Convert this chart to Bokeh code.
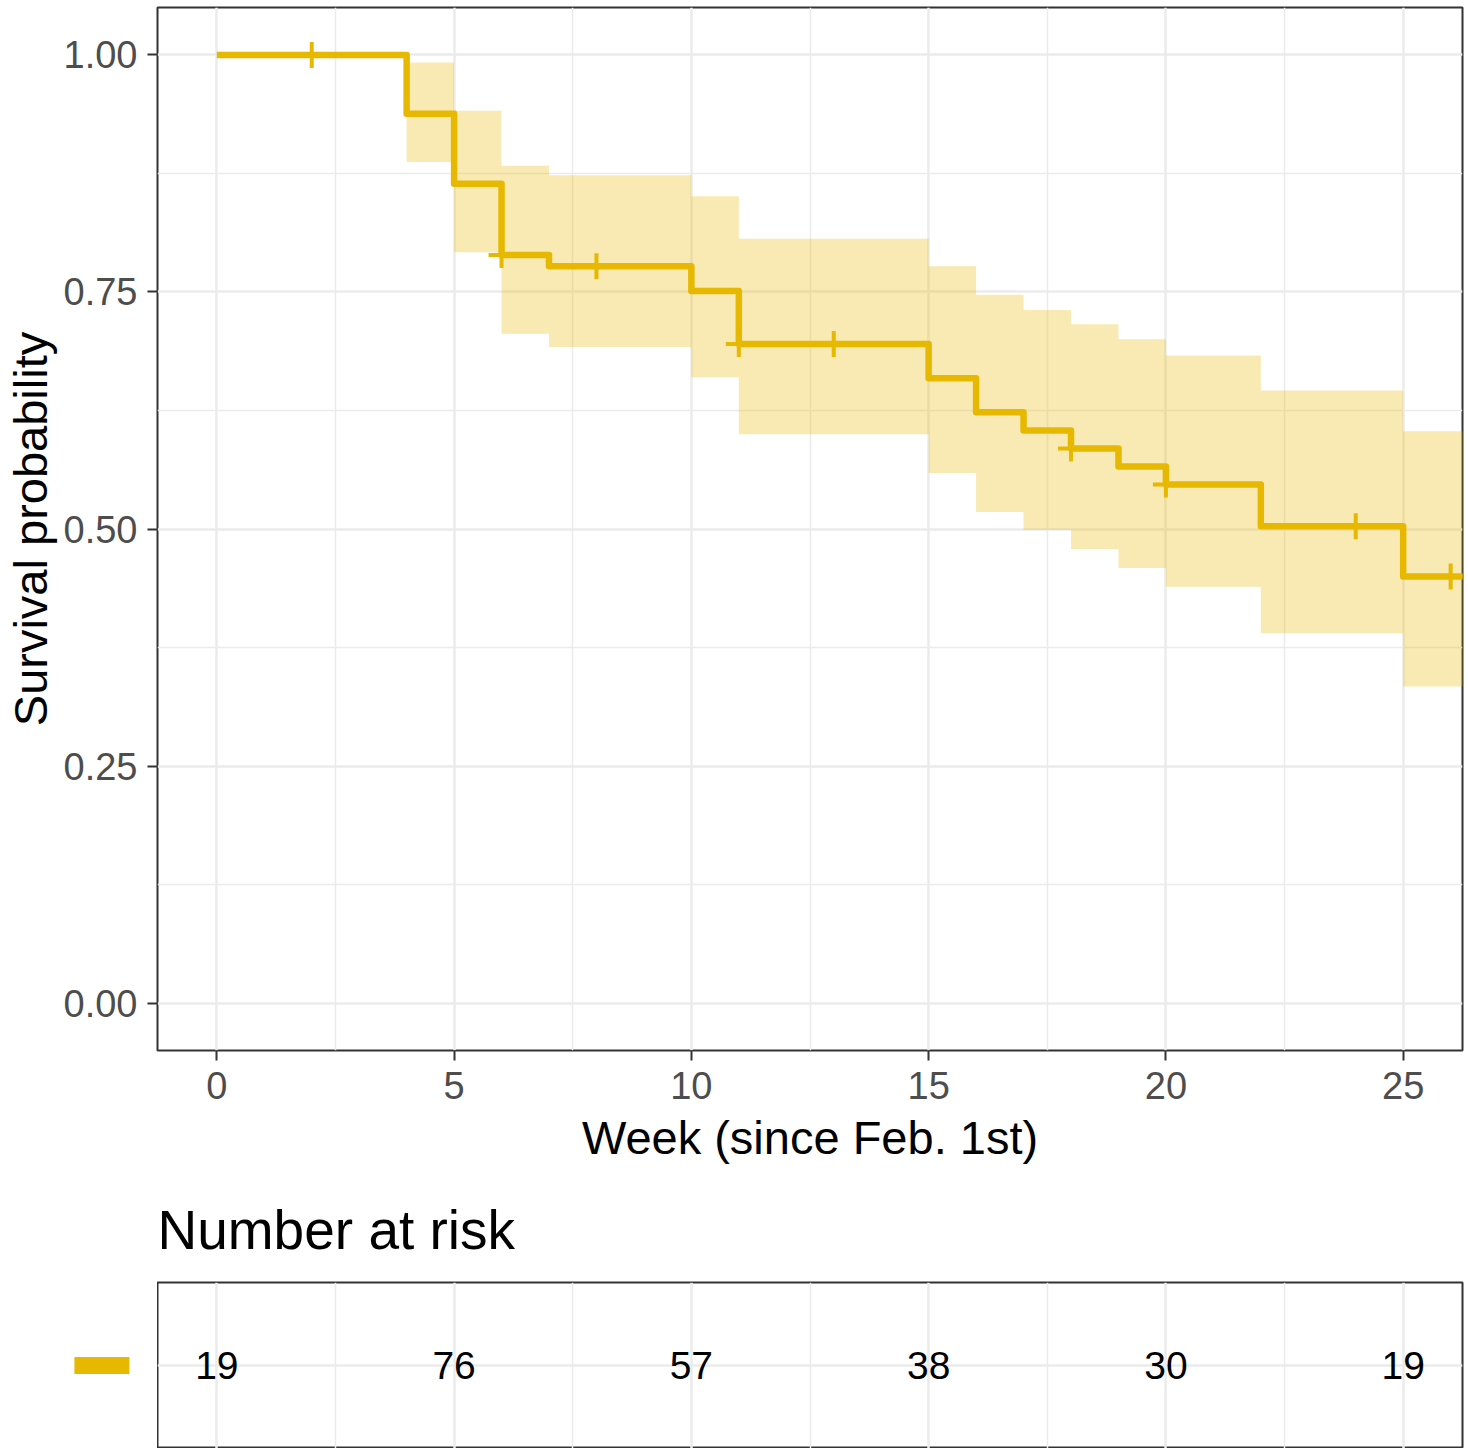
from bokeh.plotting import figure
from bokeh.models import Range1d, FixedTicker, NumeralTickFormatter
from bokeh.layouts import column, row
from bokeh.embed import file_html
from bokeh.resources import INLINE
from bokeh.core.properties import value

# ---- data ----
step_times = [0, 4, 5, 6, 7, 10, 11, 15, 16, 17, 18, 19, 20, 22, 25, 27]
surv = [1.000, 0.938, 0.864, 0.789, 0.777, 0.751, 0.695, 0.659, 0.623, 0.604,
        0.585, 0.566, 0.547, 0.503, 0.450, 0.450]
upper = [1.000, 0.992, 0.941, 0.883, 0.873, 0.851, 0.806, 0.777, 0.747, 0.731,
         0.716, 0.700, 0.683, 0.646, 0.603, 0.603]
lower = [1.000, 0.887, 0.792, 0.706, 0.692, 0.660, 0.600, 0.559, 0.518, 0.499,
         0.479, 0.459, 0.439, 0.390, 0.334, 0.334]
censor_times = [2, 6, 8, 11, 13, 18, 20, 24, 26]

risk_times = [0, 5, 10, 15, 20, 25]
risk_n = [19, 76, 57, 38, 30, 19]

x_ticks = [0, 5, 10, 15, 20, 25]
x_minor = [2.5, 7.5, 12.5, 17.5, 22.5]
y_ticks = [0.0, 0.25, 0.5, 0.75, 1.0]
y_minor = [0.125, 0.375, 0.625, 0.875]

COL = "#E7B800"
FONT = "Liberation Sans"
GRID = "#EBEBEB"
FRAME = "#333333"


def surv_at(t):
    v = surv[0]
    for tt, s in zip(step_times, surv):
        if tt <= t:
            v = s
    return v


censor_y = [surv_at(t) for t in censor_times]

xr = Range1d(-1.25, 26.25)

# ---- main survival plot ----
p = figure(width=1466, height=1174, x_range=xr, y_range=Range1d(-0.05, 1.05),
           output_backend="svg", toolbar_location=None,
           min_border_left=157, min_border_right=4, min_border_top=7,
           min_border_bottom=124)
p.background_fill_color = "white"
p.border_fill_color = "white"
p.outline_line_color = FRAME
p.outline_line_width = 2

p.xaxis.ticker = FixedTicker(ticks=x_ticks, minor_ticks=x_minor)
p.yaxis.ticker = FixedTicker(ticks=y_ticks, minor_ticks=y_minor)
p.yaxis.formatter = NumeralTickFormatter(format="0.00")

for ax in (p.xaxis, p.yaxis):
    ax.axis_line_color = None
    ax.major_tick_line_color = FRAME
    ax.major_tick_line_width = 2
    ax.major_tick_out = 10
    ax.major_tick_in = 0
    ax.minor_tick_line_color = None
    ax.major_label_text_font = FONT
    ax.major_label_text_font_size = "38px"
    ax.major_label_text_color = "#4D4D4D"
    ax.axis_label_text_font = FONT
    ax.axis_label_text_font_size = "47px"
    ax.axis_label_text_font_style = "normal"
    ax.axis_label_text_color = "black"

p.xaxis.axis_label = "Week (since Feb. 1st)"
p.yaxis.axis_label = "Survival probability"
p.xaxis.major_label_standoff = 11
p.yaxis.major_label_standoff = 10
p.xaxis.axis_label_standoff = 9
p.yaxis.axis_label_standoff = 4

for g in (p.xgrid, p.ygrid):
    g.grid_line_color = GRID
    g.grid_line_width = 2.5
    g.minor_grid_line_color = GRID
    g.minor_grid_line_width = 1.5

p.varea_step(x=step_times, y1=lower, y2=upper, step_mode="after",
             fill_color=COL, fill_alpha=0.3)
p.step(x=step_times, y=surv, mode="after", line_color=COL, line_width=6.5,
       line_join="round")
p.scatter(x=censor_times, y=censor_y, marker="cross", size=26,
          line_color=COL, line_width=4)

# ---- risk table ----
ry = Range1d(0.5, 1.5)
risk = figure(width=1309, height=274, x_range=xr, y_range=ry,
              output_backend="svg", toolbar_location=None,
              x_axis_location=None, y_axis_location=None,
              min_border_left=0, min_border_right=4, min_border_top=108,
              min_border_bottom=0)
risk.background_fill_color = "white"
risk.border_fill_color = "white"
risk.outline_line_color = FRAME
risk.outline_line_width = 2
risk.title.text = "Number at risk"
risk.title.text_font = FONT
risk.title.text_font_size = "55px"
risk.title.text_font_style = "normal"
risk.title.text_color = "black"
risk.title.align = "left"
risk.title.standoff = 44

risk.xgrid.ticker = FixedTicker(ticks=x_ticks, minor_ticks=x_minor)
risk.ygrid.ticker = FixedTicker(ticks=[1])
risk.xgrid.grid_line_color = GRID
risk.xgrid.grid_line_width = 2.5
risk.xgrid.minor_grid_line_color = GRID
risk.xgrid.minor_grid_line_width = 1.5
risk.ygrid.grid_line_color = GRID
risk.ygrid.grid_line_width = 2.5
risk.ygrid.minor_grid_line_color = None

risk.text(x=risk_times, y=[1] * len(risk_times), text=[str(n) for n in risk_n],
          text_align="center", text_baseline="middle",
          text_font=value(FONT), text_font_size="39px", text_color="black")

# legend swatch to the left of the risk table
leg = figure(width=157, height=274, x_range=Range1d(0, 1), y_range=ry,
             output_backend="svg", toolbar_location=None,
             x_axis_location=None, y_axis_location=None,
             min_border_left=0, min_border_right=0, min_border_top=108,
             min_border_bottom=0)
leg.outline_line_color = None
leg.xgrid.visible = False
leg.ygrid.visible = False
leg.background_fill_color = "white"
leg.border_fill_color = "white"
leg.rect(x=[0.646], y=[1], width=55, height=17, width_units="screen",
         height_units="screen", fill_color=COL, line_color=None)

layout = column(p, row(leg, risk))

open("out.html", "w").write(file_html(layout, INLINE))
